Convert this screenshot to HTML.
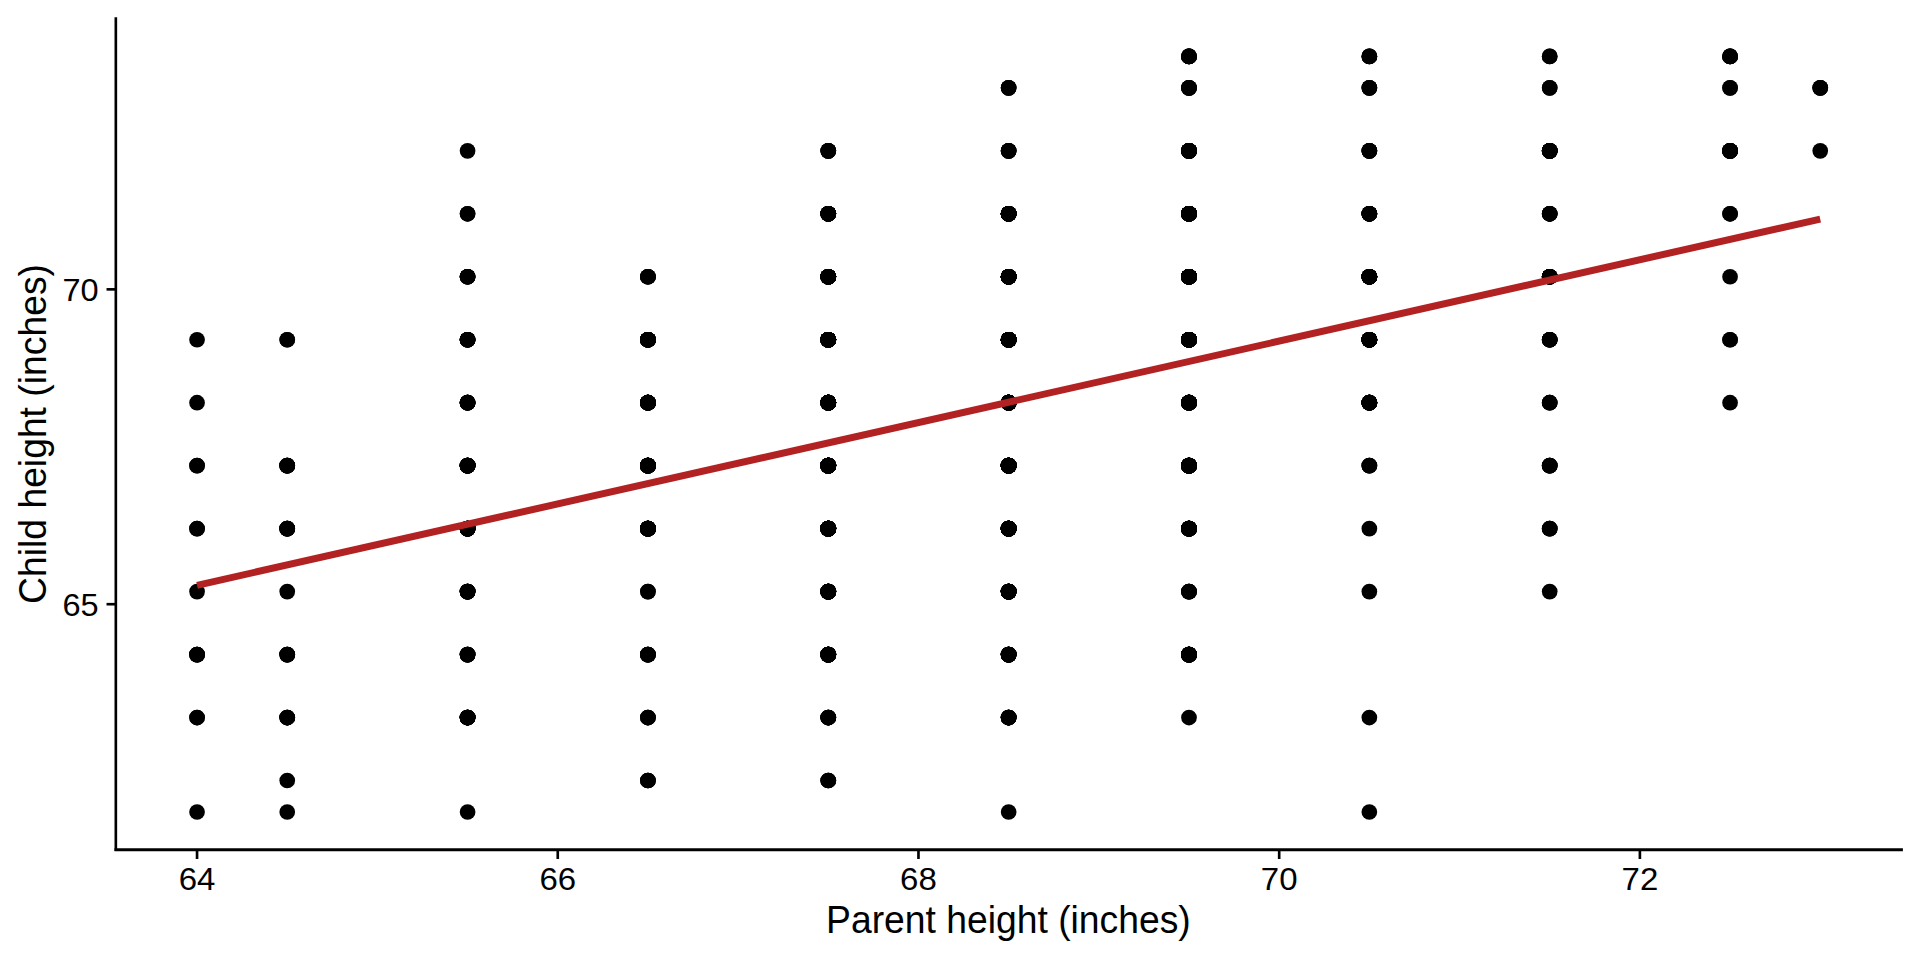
<!DOCTYPE html>
<html lang="en"><head><meta charset="utf-8"><title>Parent vs child height</title>
<style>html,body{margin:0;padding:0;background:#fff;overflow:hidden}svg{display:block}text{font-family:"Liberation Sans",Arial,Helvetica,sans-serif;fill:#000}</style></head><body>
<svg width="1920" height="960" viewBox="0 0 1920 960">
<rect width="1920" height="960" fill="#fff"/>
<g fill="#000">
<circle cx="197.05" cy="812.00" r="7.85"/>
<circle cx="287.23" cy="812.00" r="7.85"/>
<circle cx="467.58" cy="812.00" r="7.85"/>
<circle cx="1008.65" cy="812.00" r="7.85"/>
<circle cx="1369.36" cy="812.00" r="7.85"/>
<circle cx="287.23" cy="780.51" r="7.85"/>
<circle cx="647.94" cy="780.51" r="7.85"/><circle cx="647.94" cy="780.51" r="7.85"/><circle cx="647.94" cy="780.51" r="7.85"/>
<circle cx="828.29" cy="780.51" r="7.85"/><circle cx="828.29" cy="780.51" r="7.85"/><circle cx="828.29" cy="780.51" r="7.85"/>
<circle cx="197.05" cy="717.54" r="7.85"/><circle cx="197.05" cy="717.54" r="7.85"/>
<circle cx="287.23" cy="717.54" r="7.85"/><circle cx="287.23" cy="717.54" r="7.85"/><circle cx="287.23" cy="717.54" r="7.85"/><circle cx="287.23" cy="717.54" r="7.85"/>
<circle cx="467.58" cy="717.54" r="7.85"/><circle cx="467.58" cy="717.54" r="7.85"/><circle cx="467.58" cy="717.54" r="7.85"/><circle cx="467.58" cy="717.54" r="7.85"/><circle cx="467.58" cy="717.54" r="7.85"/><circle cx="467.58" cy="717.54" r="7.85"/><circle cx="467.58" cy="717.54" r="7.85"/><circle cx="467.58" cy="717.54" r="7.85"/><circle cx="467.58" cy="717.54" r="7.85"/>
<circle cx="647.94" cy="717.54" r="7.85"/><circle cx="647.94" cy="717.54" r="7.85"/><circle cx="647.94" cy="717.54" r="7.85"/>
<circle cx="828.29" cy="717.54" r="7.85"/><circle cx="828.29" cy="717.54" r="7.85"/><circle cx="828.29" cy="717.54" r="7.85"/><circle cx="828.29" cy="717.54" r="7.85"/><circle cx="828.29" cy="717.54" r="7.85"/>
<circle cx="1008.65" cy="717.54" r="7.85"/><circle cx="1008.65" cy="717.54" r="7.85"/><circle cx="1008.65" cy="717.54" r="7.85"/><circle cx="1008.65" cy="717.54" r="7.85"/><circle cx="1008.65" cy="717.54" r="7.85"/><circle cx="1008.65" cy="717.54" r="7.85"/><circle cx="1008.65" cy="717.54" r="7.85"/>
<circle cx="1189.00" cy="717.54" r="7.85"/>
<circle cx="1369.36" cy="717.54" r="7.85"/>
<circle cx="197.05" cy="654.58" r="7.85"/><circle cx="197.05" cy="654.58" r="7.85"/><circle cx="197.05" cy="654.58" r="7.85"/><circle cx="197.05" cy="654.58" r="7.85"/>
<circle cx="287.23" cy="654.58" r="7.85"/><circle cx="287.23" cy="654.58" r="7.85"/><circle cx="287.23" cy="654.58" r="7.85"/><circle cx="287.23" cy="654.58" r="7.85"/>
<circle cx="467.58" cy="654.58" r="7.85"/><circle cx="467.58" cy="654.58" r="7.85"/><circle cx="467.58" cy="654.58" r="7.85"/><circle cx="467.58" cy="654.58" r="7.85"/><circle cx="467.58" cy="654.58" r="7.85"/>
<circle cx="647.94" cy="654.58" r="7.85"/><circle cx="647.94" cy="654.58" r="7.85"/><circle cx="647.94" cy="654.58" r="7.85"/><circle cx="647.94" cy="654.58" r="7.85"/><circle cx="647.94" cy="654.58" r="7.85"/>
<circle cx="828.29" cy="654.58" r="7.85"/><circle cx="828.29" cy="654.58" r="7.85"/><circle cx="828.29" cy="654.58" r="7.85"/><circle cx="828.29" cy="654.58" r="7.85"/><circle cx="828.29" cy="654.58" r="7.85"/><circle cx="828.29" cy="654.58" r="7.85"/><circle cx="828.29" cy="654.58" r="7.85"/><circle cx="828.29" cy="654.58" r="7.85"/><circle cx="828.29" cy="654.58" r="7.85"/><circle cx="828.29" cy="654.58" r="7.85"/><circle cx="828.29" cy="654.58" r="7.85"/><circle cx="828.29" cy="654.58" r="7.85"/><circle cx="828.29" cy="654.58" r="7.85"/><circle cx="828.29" cy="654.58" r="7.85"/>
<circle cx="1008.65" cy="654.58" r="7.85"/><circle cx="1008.65" cy="654.58" r="7.85"/><circle cx="1008.65" cy="654.58" r="7.85"/><circle cx="1008.65" cy="654.58" r="7.85"/><circle cx="1008.65" cy="654.58" r="7.85"/><circle cx="1008.65" cy="654.58" r="7.85"/><circle cx="1008.65" cy="654.58" r="7.85"/><circle cx="1008.65" cy="654.58" r="7.85"/><circle cx="1008.65" cy="654.58" r="7.85"/><circle cx="1008.65" cy="654.58" r="7.85"/><circle cx="1008.65" cy="654.58" r="7.85"/>
<circle cx="1189.00" cy="654.58" r="7.85"/><circle cx="1189.00" cy="654.58" r="7.85"/><circle cx="1189.00" cy="654.58" r="7.85"/><circle cx="1189.00" cy="654.58" r="7.85"/><circle cx="1189.00" cy="654.58" r="7.85"/><circle cx="1189.00" cy="654.58" r="7.85"/><circle cx="1189.00" cy="654.58" r="7.85"/><circle cx="1189.00" cy="654.58" r="7.85"/><circle cx="1189.00" cy="654.58" r="7.85"/><circle cx="1189.00" cy="654.58" r="7.85"/><circle cx="1189.00" cy="654.58" r="7.85"/><circle cx="1189.00" cy="654.58" r="7.85"/><circle cx="1189.00" cy="654.58" r="7.85"/><circle cx="1189.00" cy="654.58" r="7.85"/><circle cx="1189.00" cy="654.58" r="7.85"/><circle cx="1189.00" cy="654.58" r="7.85"/>
<circle cx="197.05" cy="591.61" r="7.85"/>
<circle cx="287.23" cy="591.61" r="7.85"/>
<circle cx="467.58" cy="591.61" r="7.85"/><circle cx="467.58" cy="591.61" r="7.85"/><circle cx="467.58" cy="591.61" r="7.85"/><circle cx="467.58" cy="591.61" r="7.85"/><circle cx="467.58" cy="591.61" r="7.85"/><circle cx="467.58" cy="591.61" r="7.85"/><circle cx="467.58" cy="591.61" r="7.85"/>
<circle cx="647.94" cy="591.61" r="7.85"/><circle cx="647.94" cy="591.61" r="7.85"/>
<circle cx="828.29" cy="591.61" r="7.85"/><circle cx="828.29" cy="591.61" r="7.85"/><circle cx="828.29" cy="591.61" r="7.85"/><circle cx="828.29" cy="591.61" r="7.85"/><circle cx="828.29" cy="591.61" r="7.85"/><circle cx="828.29" cy="591.61" r="7.85"/><circle cx="828.29" cy="591.61" r="7.85"/><circle cx="828.29" cy="591.61" r="7.85"/><circle cx="828.29" cy="591.61" r="7.85"/><circle cx="828.29" cy="591.61" r="7.85"/><circle cx="828.29" cy="591.61" r="7.85"/><circle cx="828.29" cy="591.61" r="7.85"/><circle cx="828.29" cy="591.61" r="7.85"/><circle cx="828.29" cy="591.61" r="7.85"/><circle cx="828.29" cy="591.61" r="7.85"/>
<circle cx="1008.65" cy="591.61" r="7.85"/><circle cx="1008.65" cy="591.61" r="7.85"/><circle cx="1008.65" cy="591.61" r="7.85"/><circle cx="1008.65" cy="591.61" r="7.85"/><circle cx="1008.65" cy="591.61" r="7.85"/><circle cx="1008.65" cy="591.61" r="7.85"/><circle cx="1008.65" cy="591.61" r="7.85"/><circle cx="1008.65" cy="591.61" r="7.85"/><circle cx="1008.65" cy="591.61" r="7.85"/><circle cx="1008.65" cy="591.61" r="7.85"/><circle cx="1008.65" cy="591.61" r="7.85"/><circle cx="1008.65" cy="591.61" r="7.85"/><circle cx="1008.65" cy="591.61" r="7.85"/><circle cx="1008.65" cy="591.61" r="7.85"/><circle cx="1008.65" cy="591.61" r="7.85"/><circle cx="1008.65" cy="591.61" r="7.85"/>
<circle cx="1189.00" cy="591.61" r="7.85"/><circle cx="1189.00" cy="591.61" r="7.85"/><circle cx="1189.00" cy="591.61" r="7.85"/><circle cx="1189.00" cy="591.61" r="7.85"/>
<circle cx="1369.36" cy="591.61" r="7.85"/>
<circle cx="1549.71" cy="591.61" r="7.85"/>
<circle cx="197.05" cy="528.64" r="7.85"/><circle cx="197.05" cy="528.64" r="7.85"/>
<circle cx="287.23" cy="528.64" r="7.85"/><circle cx="287.23" cy="528.64" r="7.85"/><circle cx="287.23" cy="528.64" r="7.85"/><circle cx="287.23" cy="528.64" r="7.85"/><circle cx="287.23" cy="528.64" r="7.85"/>
<circle cx="467.58" cy="528.64" r="7.85"/><circle cx="467.58" cy="528.64" r="7.85"/><circle cx="467.58" cy="528.64" r="7.85"/><circle cx="467.58" cy="528.64" r="7.85"/><circle cx="467.58" cy="528.64" r="7.85"/><circle cx="467.58" cy="528.64" r="7.85"/><circle cx="467.58" cy="528.64" r="7.85"/><circle cx="467.58" cy="528.64" r="7.85"/><circle cx="467.58" cy="528.64" r="7.85"/><circle cx="467.58" cy="528.64" r="7.85"/><circle cx="467.58" cy="528.64" r="7.85"/>
<circle cx="647.94" cy="528.64" r="7.85"/><circle cx="647.94" cy="528.64" r="7.85"/><circle cx="647.94" cy="528.64" r="7.85"/><circle cx="647.94" cy="528.64" r="7.85"/><circle cx="647.94" cy="528.64" r="7.85"/><circle cx="647.94" cy="528.64" r="7.85"/><circle cx="647.94" cy="528.64" r="7.85"/><circle cx="647.94" cy="528.64" r="7.85"/><circle cx="647.94" cy="528.64" r="7.85"/><circle cx="647.94" cy="528.64" r="7.85"/><circle cx="647.94" cy="528.64" r="7.85"/><circle cx="647.94" cy="528.64" r="7.85"/><circle cx="647.94" cy="528.64" r="7.85"/><circle cx="647.94" cy="528.64" r="7.85"/><circle cx="647.94" cy="528.64" r="7.85"/><circle cx="647.94" cy="528.64" r="7.85"/><circle cx="647.94" cy="528.64" r="7.85"/>
<circle cx="828.29" cy="528.64" r="7.85"/><circle cx="828.29" cy="528.64" r="7.85"/><circle cx="828.29" cy="528.64" r="7.85"/><circle cx="828.29" cy="528.64" r="7.85"/><circle cx="828.29" cy="528.64" r="7.85"/><circle cx="828.29" cy="528.64" r="7.85"/><circle cx="828.29" cy="528.64" r="7.85"/><circle cx="828.29" cy="528.64" r="7.85"/><circle cx="828.29" cy="528.64" r="7.85"/><circle cx="828.29" cy="528.64" r="7.85"/><circle cx="828.29" cy="528.64" r="7.85"/><circle cx="828.29" cy="528.64" r="7.85"/><circle cx="828.29" cy="528.64" r="7.85"/><circle cx="828.29" cy="528.64" r="7.85"/><circle cx="828.29" cy="528.64" r="7.85"/><circle cx="828.29" cy="528.64" r="7.85"/><circle cx="828.29" cy="528.64" r="7.85"/><circle cx="828.29" cy="528.64" r="7.85"/><circle cx="828.29" cy="528.64" r="7.85"/><circle cx="828.29" cy="528.64" r="7.85"/><circle cx="828.29" cy="528.64" r="7.85"/><circle cx="828.29" cy="528.64" r="7.85"/><circle cx="828.29" cy="528.64" r="7.85"/><circle cx="828.29" cy="528.64" r="7.85"/><circle cx="828.29" cy="528.64" r="7.85"/><circle cx="828.29" cy="528.64" r="7.85"/><circle cx="828.29" cy="528.64" r="7.85"/><circle cx="828.29" cy="528.64" r="7.85"/><circle cx="828.29" cy="528.64" r="7.85"/><circle cx="828.29" cy="528.64" r="7.85"/><circle cx="828.29" cy="528.64" r="7.85"/><circle cx="828.29" cy="528.64" r="7.85"/><circle cx="828.29" cy="528.64" r="7.85"/><circle cx="828.29" cy="528.64" r="7.85"/><circle cx="828.29" cy="528.64" r="7.85"/><circle cx="828.29" cy="528.64" r="7.85"/>
<circle cx="1008.65" cy="528.64" r="7.85"/><circle cx="1008.65" cy="528.64" r="7.85"/><circle cx="1008.65" cy="528.64" r="7.85"/><circle cx="1008.65" cy="528.64" r="7.85"/><circle cx="1008.65" cy="528.64" r="7.85"/><circle cx="1008.65" cy="528.64" r="7.85"/><circle cx="1008.65" cy="528.64" r="7.85"/><circle cx="1008.65" cy="528.64" r="7.85"/><circle cx="1008.65" cy="528.64" r="7.85"/><circle cx="1008.65" cy="528.64" r="7.85"/><circle cx="1008.65" cy="528.64" r="7.85"/><circle cx="1008.65" cy="528.64" r="7.85"/><circle cx="1008.65" cy="528.64" r="7.85"/><circle cx="1008.65" cy="528.64" r="7.85"/><circle cx="1008.65" cy="528.64" r="7.85"/><circle cx="1008.65" cy="528.64" r="7.85"/><circle cx="1008.65" cy="528.64" r="7.85"/><circle cx="1008.65" cy="528.64" r="7.85"/><circle cx="1008.65" cy="528.64" r="7.85"/><circle cx="1008.65" cy="528.64" r="7.85"/><circle cx="1008.65" cy="528.64" r="7.85"/><circle cx="1008.65" cy="528.64" r="7.85"/><circle cx="1008.65" cy="528.64" r="7.85"/><circle cx="1008.65" cy="528.64" r="7.85"/><circle cx="1008.65" cy="528.64" r="7.85"/>
<circle cx="1189.00" cy="528.64" r="7.85"/><circle cx="1189.00" cy="528.64" r="7.85"/><circle cx="1189.00" cy="528.64" r="7.85"/><circle cx="1189.00" cy="528.64" r="7.85"/><circle cx="1189.00" cy="528.64" r="7.85"/><circle cx="1189.00" cy="528.64" r="7.85"/><circle cx="1189.00" cy="528.64" r="7.85"/><circle cx="1189.00" cy="528.64" r="7.85"/><circle cx="1189.00" cy="528.64" r="7.85"/><circle cx="1189.00" cy="528.64" r="7.85"/><circle cx="1189.00" cy="528.64" r="7.85"/><circle cx="1189.00" cy="528.64" r="7.85"/><circle cx="1189.00" cy="528.64" r="7.85"/><circle cx="1189.00" cy="528.64" r="7.85"/><circle cx="1189.00" cy="528.64" r="7.85"/><circle cx="1189.00" cy="528.64" r="7.85"/><circle cx="1189.00" cy="528.64" r="7.85"/>
<circle cx="1369.36" cy="528.64" r="7.85"/>
<circle cx="1549.71" cy="528.64" r="7.85"/><circle cx="1549.71" cy="528.64" r="7.85"/><circle cx="1549.71" cy="528.64" r="7.85"/>
<circle cx="197.05" cy="465.67" r="7.85"/><circle cx="197.05" cy="465.67" r="7.85"/>
<circle cx="287.23" cy="465.67" r="7.85"/><circle cx="287.23" cy="465.67" r="7.85"/><circle cx="287.23" cy="465.67" r="7.85"/><circle cx="287.23" cy="465.67" r="7.85"/><circle cx="287.23" cy="465.67" r="7.85"/>
<circle cx="467.58" cy="465.67" r="7.85"/><circle cx="467.58" cy="465.67" r="7.85"/><circle cx="467.58" cy="465.67" r="7.85"/><circle cx="467.58" cy="465.67" r="7.85"/><circle cx="467.58" cy="465.67" r="7.85"/><circle cx="467.58" cy="465.67" r="7.85"/><circle cx="467.58" cy="465.67" r="7.85"/><circle cx="467.58" cy="465.67" r="7.85"/><circle cx="467.58" cy="465.67" r="7.85"/><circle cx="467.58" cy="465.67" r="7.85"/><circle cx="467.58" cy="465.67" r="7.85"/>
<circle cx="647.94" cy="465.67" r="7.85"/><circle cx="647.94" cy="465.67" r="7.85"/><circle cx="647.94" cy="465.67" r="7.85"/><circle cx="647.94" cy="465.67" r="7.85"/><circle cx="647.94" cy="465.67" r="7.85"/><circle cx="647.94" cy="465.67" r="7.85"/><circle cx="647.94" cy="465.67" r="7.85"/><circle cx="647.94" cy="465.67" r="7.85"/><circle cx="647.94" cy="465.67" r="7.85"/><circle cx="647.94" cy="465.67" r="7.85"/><circle cx="647.94" cy="465.67" r="7.85"/><circle cx="647.94" cy="465.67" r="7.85"/><circle cx="647.94" cy="465.67" r="7.85"/><circle cx="647.94" cy="465.67" r="7.85"/><circle cx="647.94" cy="465.67" r="7.85"/><circle cx="647.94" cy="465.67" r="7.85"/><circle cx="647.94" cy="465.67" r="7.85"/>
<circle cx="828.29" cy="465.67" r="7.85"/><circle cx="828.29" cy="465.67" r="7.85"/><circle cx="828.29" cy="465.67" r="7.85"/><circle cx="828.29" cy="465.67" r="7.85"/><circle cx="828.29" cy="465.67" r="7.85"/><circle cx="828.29" cy="465.67" r="7.85"/><circle cx="828.29" cy="465.67" r="7.85"/><circle cx="828.29" cy="465.67" r="7.85"/><circle cx="828.29" cy="465.67" r="7.85"/><circle cx="828.29" cy="465.67" r="7.85"/><circle cx="828.29" cy="465.67" r="7.85"/><circle cx="828.29" cy="465.67" r="7.85"/><circle cx="828.29" cy="465.67" r="7.85"/><circle cx="828.29" cy="465.67" r="7.85"/><circle cx="828.29" cy="465.67" r="7.85"/><circle cx="828.29" cy="465.67" r="7.85"/><circle cx="828.29" cy="465.67" r="7.85"/><circle cx="828.29" cy="465.67" r="7.85"/><circle cx="828.29" cy="465.67" r="7.85"/><circle cx="828.29" cy="465.67" r="7.85"/><circle cx="828.29" cy="465.67" r="7.85"/><circle cx="828.29" cy="465.67" r="7.85"/><circle cx="828.29" cy="465.67" r="7.85"/><circle cx="828.29" cy="465.67" r="7.85"/><circle cx="828.29" cy="465.67" r="7.85"/><circle cx="828.29" cy="465.67" r="7.85"/><circle cx="828.29" cy="465.67" r="7.85"/><circle cx="828.29" cy="465.67" r="7.85"/><circle cx="828.29" cy="465.67" r="7.85"/><circle cx="828.29" cy="465.67" r="7.85"/><circle cx="828.29" cy="465.67" r="7.85"/><circle cx="828.29" cy="465.67" r="7.85"/><circle cx="828.29" cy="465.67" r="7.85"/><circle cx="828.29" cy="465.67" r="7.85"/><circle cx="828.29" cy="465.67" r="7.85"/><circle cx="828.29" cy="465.67" r="7.85"/><circle cx="828.29" cy="465.67" r="7.85"/><circle cx="828.29" cy="465.67" r="7.85"/>
<circle cx="1008.65" cy="465.67" r="7.85"/><circle cx="1008.65" cy="465.67" r="7.85"/><circle cx="1008.65" cy="465.67" r="7.85"/><circle cx="1008.65" cy="465.67" r="7.85"/><circle cx="1008.65" cy="465.67" r="7.85"/><circle cx="1008.65" cy="465.67" r="7.85"/><circle cx="1008.65" cy="465.67" r="7.85"/><circle cx="1008.65" cy="465.67" r="7.85"/><circle cx="1008.65" cy="465.67" r="7.85"/><circle cx="1008.65" cy="465.67" r="7.85"/><circle cx="1008.65" cy="465.67" r="7.85"/><circle cx="1008.65" cy="465.67" r="7.85"/><circle cx="1008.65" cy="465.67" r="7.85"/><circle cx="1008.65" cy="465.67" r="7.85"/><circle cx="1008.65" cy="465.67" r="7.85"/><circle cx="1008.65" cy="465.67" r="7.85"/><circle cx="1008.65" cy="465.67" r="7.85"/><circle cx="1008.65" cy="465.67" r="7.85"/><circle cx="1008.65" cy="465.67" r="7.85"/><circle cx="1008.65" cy="465.67" r="7.85"/><circle cx="1008.65" cy="465.67" r="7.85"/><circle cx="1008.65" cy="465.67" r="7.85"/><circle cx="1008.65" cy="465.67" r="7.85"/><circle cx="1008.65" cy="465.67" r="7.85"/><circle cx="1008.65" cy="465.67" r="7.85"/><circle cx="1008.65" cy="465.67" r="7.85"/><circle cx="1008.65" cy="465.67" r="7.85"/><circle cx="1008.65" cy="465.67" r="7.85"/><circle cx="1008.65" cy="465.67" r="7.85"/><circle cx="1008.65" cy="465.67" r="7.85"/><circle cx="1008.65" cy="465.67" r="7.85"/>
<circle cx="1189.00" cy="465.67" r="7.85"/><circle cx="1189.00" cy="465.67" r="7.85"/><circle cx="1189.00" cy="465.67" r="7.85"/><circle cx="1189.00" cy="465.67" r="7.85"/><circle cx="1189.00" cy="465.67" r="7.85"/><circle cx="1189.00" cy="465.67" r="7.85"/><circle cx="1189.00" cy="465.67" r="7.85"/><circle cx="1189.00" cy="465.67" r="7.85"/><circle cx="1189.00" cy="465.67" r="7.85"/><circle cx="1189.00" cy="465.67" r="7.85"/><circle cx="1189.00" cy="465.67" r="7.85"/><circle cx="1189.00" cy="465.67" r="7.85"/><circle cx="1189.00" cy="465.67" r="7.85"/><circle cx="1189.00" cy="465.67" r="7.85"/><circle cx="1189.00" cy="465.67" r="7.85"/><circle cx="1189.00" cy="465.67" r="7.85"/><circle cx="1189.00" cy="465.67" r="7.85"/><circle cx="1189.00" cy="465.67" r="7.85"/><circle cx="1189.00" cy="465.67" r="7.85"/><circle cx="1189.00" cy="465.67" r="7.85"/><circle cx="1189.00" cy="465.67" r="7.85"/><circle cx="1189.00" cy="465.67" r="7.85"/><circle cx="1189.00" cy="465.67" r="7.85"/><circle cx="1189.00" cy="465.67" r="7.85"/><circle cx="1189.00" cy="465.67" r="7.85"/><circle cx="1189.00" cy="465.67" r="7.85"/><circle cx="1189.00" cy="465.67" r="7.85"/>
<circle cx="1369.36" cy="465.67" r="7.85"/><circle cx="1369.36" cy="465.67" r="7.85"/><circle cx="1369.36" cy="465.67" r="7.85"/>
<circle cx="1549.71" cy="465.67" r="7.85"/><circle cx="1549.71" cy="465.67" r="7.85"/><circle cx="1549.71" cy="465.67" r="7.85"/><circle cx="1549.71" cy="465.67" r="7.85"/>
<circle cx="197.05" cy="402.70" r="7.85"/>
<circle cx="467.58" cy="402.70" r="7.85"/><circle cx="467.58" cy="402.70" r="7.85"/><circle cx="467.58" cy="402.70" r="7.85"/><circle cx="467.58" cy="402.70" r="7.85"/><circle cx="467.58" cy="402.70" r="7.85"/><circle cx="467.58" cy="402.70" r="7.85"/><circle cx="467.58" cy="402.70" r="7.85"/>
<circle cx="647.94" cy="402.70" r="7.85"/><circle cx="647.94" cy="402.70" r="7.85"/><circle cx="647.94" cy="402.70" r="7.85"/><circle cx="647.94" cy="402.70" r="7.85"/><circle cx="647.94" cy="402.70" r="7.85"/><circle cx="647.94" cy="402.70" r="7.85"/><circle cx="647.94" cy="402.70" r="7.85"/><circle cx="647.94" cy="402.70" r="7.85"/><circle cx="647.94" cy="402.70" r="7.85"/><circle cx="647.94" cy="402.70" r="7.85"/><circle cx="647.94" cy="402.70" r="7.85"/><circle cx="647.94" cy="402.70" r="7.85"/><circle cx="647.94" cy="402.70" r="7.85"/><circle cx="647.94" cy="402.70" r="7.85"/>
<circle cx="828.29" cy="402.70" r="7.85"/><circle cx="828.29" cy="402.70" r="7.85"/><circle cx="828.29" cy="402.70" r="7.85"/><circle cx="828.29" cy="402.70" r="7.85"/><circle cx="828.29" cy="402.70" r="7.85"/><circle cx="828.29" cy="402.70" r="7.85"/><circle cx="828.29" cy="402.70" r="7.85"/><circle cx="828.29" cy="402.70" r="7.85"/><circle cx="828.29" cy="402.70" r="7.85"/><circle cx="828.29" cy="402.70" r="7.85"/><circle cx="828.29" cy="402.70" r="7.85"/><circle cx="828.29" cy="402.70" r="7.85"/><circle cx="828.29" cy="402.70" r="7.85"/><circle cx="828.29" cy="402.70" r="7.85"/><circle cx="828.29" cy="402.70" r="7.85"/><circle cx="828.29" cy="402.70" r="7.85"/><circle cx="828.29" cy="402.70" r="7.85"/><circle cx="828.29" cy="402.70" r="7.85"/><circle cx="828.29" cy="402.70" r="7.85"/><circle cx="828.29" cy="402.70" r="7.85"/><circle cx="828.29" cy="402.70" r="7.85"/><circle cx="828.29" cy="402.70" r="7.85"/><circle cx="828.29" cy="402.70" r="7.85"/><circle cx="828.29" cy="402.70" r="7.85"/><circle cx="828.29" cy="402.70" r="7.85"/><circle cx="828.29" cy="402.70" r="7.85"/><circle cx="828.29" cy="402.70" r="7.85"/><circle cx="828.29" cy="402.70" r="7.85"/>
<circle cx="1008.65" cy="402.70" r="7.85"/><circle cx="1008.65" cy="402.70" r="7.85"/><circle cx="1008.65" cy="402.70" r="7.85"/><circle cx="1008.65" cy="402.70" r="7.85"/><circle cx="1008.65" cy="402.70" r="7.85"/><circle cx="1008.65" cy="402.70" r="7.85"/><circle cx="1008.65" cy="402.70" r="7.85"/><circle cx="1008.65" cy="402.70" r="7.85"/><circle cx="1008.65" cy="402.70" r="7.85"/><circle cx="1008.65" cy="402.70" r="7.85"/><circle cx="1008.65" cy="402.70" r="7.85"/><circle cx="1008.65" cy="402.70" r="7.85"/><circle cx="1008.65" cy="402.70" r="7.85"/><circle cx="1008.65" cy="402.70" r="7.85"/><circle cx="1008.65" cy="402.70" r="7.85"/><circle cx="1008.65" cy="402.70" r="7.85"/><circle cx="1008.65" cy="402.70" r="7.85"/><circle cx="1008.65" cy="402.70" r="7.85"/><circle cx="1008.65" cy="402.70" r="7.85"/><circle cx="1008.65" cy="402.70" r="7.85"/><circle cx="1008.65" cy="402.70" r="7.85"/><circle cx="1008.65" cy="402.70" r="7.85"/><circle cx="1008.65" cy="402.70" r="7.85"/><circle cx="1008.65" cy="402.70" r="7.85"/><circle cx="1008.65" cy="402.70" r="7.85"/><circle cx="1008.65" cy="402.70" r="7.85"/><circle cx="1008.65" cy="402.70" r="7.85"/><circle cx="1008.65" cy="402.70" r="7.85"/><circle cx="1008.65" cy="402.70" r="7.85"/><circle cx="1008.65" cy="402.70" r="7.85"/><circle cx="1008.65" cy="402.70" r="7.85"/><circle cx="1008.65" cy="402.70" r="7.85"/><circle cx="1008.65" cy="402.70" r="7.85"/><circle cx="1008.65" cy="402.70" r="7.85"/>
<circle cx="1189.00" cy="402.70" r="7.85"/><circle cx="1189.00" cy="402.70" r="7.85"/><circle cx="1189.00" cy="402.70" r="7.85"/><circle cx="1189.00" cy="402.70" r="7.85"/><circle cx="1189.00" cy="402.70" r="7.85"/><circle cx="1189.00" cy="402.70" r="7.85"/><circle cx="1189.00" cy="402.70" r="7.85"/><circle cx="1189.00" cy="402.70" r="7.85"/><circle cx="1189.00" cy="402.70" r="7.85"/><circle cx="1189.00" cy="402.70" r="7.85"/><circle cx="1189.00" cy="402.70" r="7.85"/><circle cx="1189.00" cy="402.70" r="7.85"/><circle cx="1189.00" cy="402.70" r="7.85"/><circle cx="1189.00" cy="402.70" r="7.85"/><circle cx="1189.00" cy="402.70" r="7.85"/><circle cx="1189.00" cy="402.70" r="7.85"/><circle cx="1189.00" cy="402.70" r="7.85"/><circle cx="1189.00" cy="402.70" r="7.85"/><circle cx="1189.00" cy="402.70" r="7.85"/><circle cx="1189.00" cy="402.70" r="7.85"/>
<circle cx="1369.36" cy="402.70" r="7.85"/><circle cx="1369.36" cy="402.70" r="7.85"/><circle cx="1369.36" cy="402.70" r="7.85"/><circle cx="1369.36" cy="402.70" r="7.85"/><circle cx="1369.36" cy="402.70" r="7.85"/><circle cx="1369.36" cy="402.70" r="7.85"/><circle cx="1369.36" cy="402.70" r="7.85"/><circle cx="1369.36" cy="402.70" r="7.85"/><circle cx="1369.36" cy="402.70" r="7.85"/><circle cx="1369.36" cy="402.70" r="7.85"/><circle cx="1369.36" cy="402.70" r="7.85"/><circle cx="1369.36" cy="402.70" r="7.85"/>
<circle cx="1549.71" cy="402.70" r="7.85"/><circle cx="1549.71" cy="402.70" r="7.85"/><circle cx="1549.71" cy="402.70" r="7.85"/>
<circle cx="1730.07" cy="402.70" r="7.85"/>
<circle cx="197.05" cy="339.74" r="7.85"/>
<circle cx="287.23" cy="339.74" r="7.85"/><circle cx="287.23" cy="339.74" r="7.85"/>
<circle cx="467.58" cy="339.74" r="7.85"/><circle cx="467.58" cy="339.74" r="7.85"/><circle cx="467.58" cy="339.74" r="7.85"/><circle cx="467.58" cy="339.74" r="7.85"/><circle cx="467.58" cy="339.74" r="7.85"/><circle cx="467.58" cy="339.74" r="7.85"/><circle cx="467.58" cy="339.74" r="7.85"/>
<circle cx="647.94" cy="339.74" r="7.85"/><circle cx="647.94" cy="339.74" r="7.85"/><circle cx="647.94" cy="339.74" r="7.85"/><circle cx="647.94" cy="339.74" r="7.85"/><circle cx="647.94" cy="339.74" r="7.85"/><circle cx="647.94" cy="339.74" r="7.85"/><circle cx="647.94" cy="339.74" r="7.85"/><circle cx="647.94" cy="339.74" r="7.85"/><circle cx="647.94" cy="339.74" r="7.85"/><circle cx="647.94" cy="339.74" r="7.85"/><circle cx="647.94" cy="339.74" r="7.85"/><circle cx="647.94" cy="339.74" r="7.85"/><circle cx="647.94" cy="339.74" r="7.85"/>
<circle cx="828.29" cy="339.74" r="7.85"/><circle cx="828.29" cy="339.74" r="7.85"/><circle cx="828.29" cy="339.74" r="7.85"/><circle cx="828.29" cy="339.74" r="7.85"/><circle cx="828.29" cy="339.74" r="7.85"/><circle cx="828.29" cy="339.74" r="7.85"/><circle cx="828.29" cy="339.74" r="7.85"/><circle cx="828.29" cy="339.74" r="7.85"/><circle cx="828.29" cy="339.74" r="7.85"/><circle cx="828.29" cy="339.74" r="7.85"/><circle cx="828.29" cy="339.74" r="7.85"/><circle cx="828.29" cy="339.74" r="7.85"/><circle cx="828.29" cy="339.74" r="7.85"/><circle cx="828.29" cy="339.74" r="7.85"/><circle cx="828.29" cy="339.74" r="7.85"/><circle cx="828.29" cy="339.74" r="7.85"/><circle cx="828.29" cy="339.74" r="7.85"/><circle cx="828.29" cy="339.74" r="7.85"/><circle cx="828.29" cy="339.74" r="7.85"/><circle cx="828.29" cy="339.74" r="7.85"/><circle cx="828.29" cy="339.74" r="7.85"/><circle cx="828.29" cy="339.74" r="7.85"/><circle cx="828.29" cy="339.74" r="7.85"/><circle cx="828.29" cy="339.74" r="7.85"/><circle cx="828.29" cy="339.74" r="7.85"/><circle cx="828.29" cy="339.74" r="7.85"/><circle cx="828.29" cy="339.74" r="7.85"/><circle cx="828.29" cy="339.74" r="7.85"/><circle cx="828.29" cy="339.74" r="7.85"/><circle cx="828.29" cy="339.74" r="7.85"/><circle cx="828.29" cy="339.74" r="7.85"/><circle cx="828.29" cy="339.74" r="7.85"/><circle cx="828.29" cy="339.74" r="7.85"/><circle cx="828.29" cy="339.74" r="7.85"/><circle cx="828.29" cy="339.74" r="7.85"/><circle cx="828.29" cy="339.74" r="7.85"/><circle cx="828.29" cy="339.74" r="7.85"/><circle cx="828.29" cy="339.74" r="7.85"/>
<circle cx="1008.65" cy="339.74" r="7.85"/><circle cx="1008.65" cy="339.74" r="7.85"/><circle cx="1008.65" cy="339.74" r="7.85"/><circle cx="1008.65" cy="339.74" r="7.85"/><circle cx="1008.65" cy="339.74" r="7.85"/><circle cx="1008.65" cy="339.74" r="7.85"/><circle cx="1008.65" cy="339.74" r="7.85"/><circle cx="1008.65" cy="339.74" r="7.85"/><circle cx="1008.65" cy="339.74" r="7.85"/><circle cx="1008.65" cy="339.74" r="7.85"/><circle cx="1008.65" cy="339.74" r="7.85"/><circle cx="1008.65" cy="339.74" r="7.85"/><circle cx="1008.65" cy="339.74" r="7.85"/><circle cx="1008.65" cy="339.74" r="7.85"/><circle cx="1008.65" cy="339.74" r="7.85"/><circle cx="1008.65" cy="339.74" r="7.85"/><circle cx="1008.65" cy="339.74" r="7.85"/><circle cx="1008.65" cy="339.74" r="7.85"/><circle cx="1008.65" cy="339.74" r="7.85"/><circle cx="1008.65" cy="339.74" r="7.85"/><circle cx="1008.65" cy="339.74" r="7.85"/><circle cx="1008.65" cy="339.74" r="7.85"/><circle cx="1008.65" cy="339.74" r="7.85"/><circle cx="1008.65" cy="339.74" r="7.85"/><circle cx="1008.65" cy="339.74" r="7.85"/><circle cx="1008.65" cy="339.74" r="7.85"/><circle cx="1008.65" cy="339.74" r="7.85"/><circle cx="1008.65" cy="339.74" r="7.85"/><circle cx="1008.65" cy="339.74" r="7.85"/><circle cx="1008.65" cy="339.74" r="7.85"/><circle cx="1008.65" cy="339.74" r="7.85"/><circle cx="1008.65" cy="339.74" r="7.85"/><circle cx="1008.65" cy="339.74" r="7.85"/><circle cx="1008.65" cy="339.74" r="7.85"/><circle cx="1008.65" cy="339.74" r="7.85"/><circle cx="1008.65" cy="339.74" r="7.85"/><circle cx="1008.65" cy="339.74" r="7.85"/><circle cx="1008.65" cy="339.74" r="7.85"/><circle cx="1008.65" cy="339.74" r="7.85"/><circle cx="1008.65" cy="339.74" r="7.85"/><circle cx="1008.65" cy="339.74" r="7.85"/><circle cx="1008.65" cy="339.74" r="7.85"/><circle cx="1008.65" cy="339.74" r="7.85"/><circle cx="1008.65" cy="339.74" r="7.85"/><circle cx="1008.65" cy="339.74" r="7.85"/><circle cx="1008.65" cy="339.74" r="7.85"/><circle cx="1008.65" cy="339.74" r="7.85"/><circle cx="1008.65" cy="339.74" r="7.85"/>
<circle cx="1189.00" cy="339.74" r="7.85"/><circle cx="1189.00" cy="339.74" r="7.85"/><circle cx="1189.00" cy="339.74" r="7.85"/><circle cx="1189.00" cy="339.74" r="7.85"/><circle cx="1189.00" cy="339.74" r="7.85"/><circle cx="1189.00" cy="339.74" r="7.85"/><circle cx="1189.00" cy="339.74" r="7.85"/><circle cx="1189.00" cy="339.74" r="7.85"/><circle cx="1189.00" cy="339.74" r="7.85"/><circle cx="1189.00" cy="339.74" r="7.85"/><circle cx="1189.00" cy="339.74" r="7.85"/><circle cx="1189.00" cy="339.74" r="7.85"/><circle cx="1189.00" cy="339.74" r="7.85"/><circle cx="1189.00" cy="339.74" r="7.85"/><circle cx="1189.00" cy="339.74" r="7.85"/><circle cx="1189.00" cy="339.74" r="7.85"/><circle cx="1189.00" cy="339.74" r="7.85"/><circle cx="1189.00" cy="339.74" r="7.85"/><circle cx="1189.00" cy="339.74" r="7.85"/><circle cx="1189.00" cy="339.74" r="7.85"/><circle cx="1189.00" cy="339.74" r="7.85"/><circle cx="1189.00" cy="339.74" r="7.85"/><circle cx="1189.00" cy="339.74" r="7.85"/><circle cx="1189.00" cy="339.74" r="7.85"/><circle cx="1189.00" cy="339.74" r="7.85"/><circle cx="1189.00" cy="339.74" r="7.85"/><circle cx="1189.00" cy="339.74" r="7.85"/><circle cx="1189.00" cy="339.74" r="7.85"/><circle cx="1189.00" cy="339.74" r="7.85"/><circle cx="1189.00" cy="339.74" r="7.85"/><circle cx="1189.00" cy="339.74" r="7.85"/><circle cx="1189.00" cy="339.74" r="7.85"/><circle cx="1189.00" cy="339.74" r="7.85"/>
<circle cx="1369.36" cy="339.74" r="7.85"/><circle cx="1369.36" cy="339.74" r="7.85"/><circle cx="1369.36" cy="339.74" r="7.85"/><circle cx="1369.36" cy="339.74" r="7.85"/><circle cx="1369.36" cy="339.74" r="7.85"/><circle cx="1369.36" cy="339.74" r="7.85"/><circle cx="1369.36" cy="339.74" r="7.85"/><circle cx="1369.36" cy="339.74" r="7.85"/><circle cx="1369.36" cy="339.74" r="7.85"/><circle cx="1369.36" cy="339.74" r="7.85"/><circle cx="1369.36" cy="339.74" r="7.85"/><circle cx="1369.36" cy="339.74" r="7.85"/><circle cx="1369.36" cy="339.74" r="7.85"/><circle cx="1369.36" cy="339.74" r="7.85"/><circle cx="1369.36" cy="339.74" r="7.85"/><circle cx="1369.36" cy="339.74" r="7.85"/><circle cx="1369.36" cy="339.74" r="7.85"/><circle cx="1369.36" cy="339.74" r="7.85"/>
<circle cx="1549.71" cy="339.74" r="7.85"/><circle cx="1549.71" cy="339.74" r="7.85"/><circle cx="1549.71" cy="339.74" r="7.85"/><circle cx="1549.71" cy="339.74" r="7.85"/><circle cx="1549.71" cy="339.74" r="7.85"/>
<circle cx="1730.07" cy="339.74" r="7.85"/><circle cx="1730.07" cy="339.74" r="7.85"/>
<circle cx="467.58" cy="276.77" r="7.85"/><circle cx="467.58" cy="276.77" r="7.85"/><circle cx="467.58" cy="276.77" r="7.85"/><circle cx="467.58" cy="276.77" r="7.85"/><circle cx="467.58" cy="276.77" r="7.85"/>
<circle cx="647.94" cy="276.77" r="7.85"/><circle cx="647.94" cy="276.77" r="7.85"/><circle cx="647.94" cy="276.77" r="7.85"/><circle cx="647.94" cy="276.77" r="7.85"/>
<circle cx="828.29" cy="276.77" r="7.85"/><circle cx="828.29" cy="276.77" r="7.85"/><circle cx="828.29" cy="276.77" r="7.85"/><circle cx="828.29" cy="276.77" r="7.85"/><circle cx="828.29" cy="276.77" r="7.85"/><circle cx="828.29" cy="276.77" r="7.85"/><circle cx="828.29" cy="276.77" r="7.85"/><circle cx="828.29" cy="276.77" r="7.85"/><circle cx="828.29" cy="276.77" r="7.85"/><circle cx="828.29" cy="276.77" r="7.85"/><circle cx="828.29" cy="276.77" r="7.85"/><circle cx="828.29" cy="276.77" r="7.85"/><circle cx="828.29" cy="276.77" r="7.85"/><circle cx="828.29" cy="276.77" r="7.85"/><circle cx="828.29" cy="276.77" r="7.85"/><circle cx="828.29" cy="276.77" r="7.85"/><circle cx="828.29" cy="276.77" r="7.85"/><circle cx="828.29" cy="276.77" r="7.85"/><circle cx="828.29" cy="276.77" r="7.85"/>
<circle cx="1008.65" cy="276.77" r="7.85"/><circle cx="1008.65" cy="276.77" r="7.85"/><circle cx="1008.65" cy="276.77" r="7.85"/><circle cx="1008.65" cy="276.77" r="7.85"/><circle cx="1008.65" cy="276.77" r="7.85"/><circle cx="1008.65" cy="276.77" r="7.85"/><circle cx="1008.65" cy="276.77" r="7.85"/><circle cx="1008.65" cy="276.77" r="7.85"/><circle cx="1008.65" cy="276.77" r="7.85"/><circle cx="1008.65" cy="276.77" r="7.85"/><circle cx="1008.65" cy="276.77" r="7.85"/><circle cx="1008.65" cy="276.77" r="7.85"/><circle cx="1008.65" cy="276.77" r="7.85"/><circle cx="1008.65" cy="276.77" r="7.85"/><circle cx="1008.65" cy="276.77" r="7.85"/><circle cx="1008.65" cy="276.77" r="7.85"/><circle cx="1008.65" cy="276.77" r="7.85"/><circle cx="1008.65" cy="276.77" r="7.85"/><circle cx="1008.65" cy="276.77" r="7.85"/><circle cx="1008.65" cy="276.77" r="7.85"/><circle cx="1008.65" cy="276.77" r="7.85"/>
<circle cx="1189.00" cy="276.77" r="7.85"/><circle cx="1189.00" cy="276.77" r="7.85"/><circle cx="1189.00" cy="276.77" r="7.85"/><circle cx="1189.00" cy="276.77" r="7.85"/><circle cx="1189.00" cy="276.77" r="7.85"/><circle cx="1189.00" cy="276.77" r="7.85"/><circle cx="1189.00" cy="276.77" r="7.85"/><circle cx="1189.00" cy="276.77" r="7.85"/><circle cx="1189.00" cy="276.77" r="7.85"/><circle cx="1189.00" cy="276.77" r="7.85"/><circle cx="1189.00" cy="276.77" r="7.85"/><circle cx="1189.00" cy="276.77" r="7.85"/><circle cx="1189.00" cy="276.77" r="7.85"/><circle cx="1189.00" cy="276.77" r="7.85"/><circle cx="1189.00" cy="276.77" r="7.85"/><circle cx="1189.00" cy="276.77" r="7.85"/><circle cx="1189.00" cy="276.77" r="7.85"/><circle cx="1189.00" cy="276.77" r="7.85"/><circle cx="1189.00" cy="276.77" r="7.85"/><circle cx="1189.00" cy="276.77" r="7.85"/><circle cx="1189.00" cy="276.77" r="7.85"/><circle cx="1189.00" cy="276.77" r="7.85"/><circle cx="1189.00" cy="276.77" r="7.85"/><circle cx="1189.00" cy="276.77" r="7.85"/><circle cx="1189.00" cy="276.77" r="7.85"/>
<circle cx="1369.36" cy="276.77" r="7.85"/><circle cx="1369.36" cy="276.77" r="7.85"/><circle cx="1369.36" cy="276.77" r="7.85"/><circle cx="1369.36" cy="276.77" r="7.85"/><circle cx="1369.36" cy="276.77" r="7.85"/><circle cx="1369.36" cy="276.77" r="7.85"/><circle cx="1369.36" cy="276.77" r="7.85"/><circle cx="1369.36" cy="276.77" r="7.85"/><circle cx="1369.36" cy="276.77" r="7.85"/><circle cx="1369.36" cy="276.77" r="7.85"/><circle cx="1369.36" cy="276.77" r="7.85"/><circle cx="1369.36" cy="276.77" r="7.85"/><circle cx="1369.36" cy="276.77" r="7.85"/><circle cx="1369.36" cy="276.77" r="7.85"/>
<circle cx="1549.71" cy="276.77" r="7.85"/><circle cx="1549.71" cy="276.77" r="7.85"/><circle cx="1549.71" cy="276.77" r="7.85"/><circle cx="1549.71" cy="276.77" r="7.85"/><circle cx="1549.71" cy="276.77" r="7.85"/><circle cx="1549.71" cy="276.77" r="7.85"/><circle cx="1549.71" cy="276.77" r="7.85"/><circle cx="1549.71" cy="276.77" r="7.85"/><circle cx="1549.71" cy="276.77" r="7.85"/><circle cx="1549.71" cy="276.77" r="7.85"/>
<circle cx="1730.07" cy="276.77" r="7.85"/>
<circle cx="467.58" cy="213.80" r="7.85"/><circle cx="467.58" cy="213.80" r="7.85"/>
<circle cx="828.29" cy="213.80" r="7.85"/><circle cx="828.29" cy="213.80" r="7.85"/><circle cx="828.29" cy="213.80" r="7.85"/><circle cx="828.29" cy="213.80" r="7.85"/><circle cx="828.29" cy="213.80" r="7.85"/><circle cx="828.29" cy="213.80" r="7.85"/><circle cx="828.29" cy="213.80" r="7.85"/><circle cx="828.29" cy="213.80" r="7.85"/><circle cx="828.29" cy="213.80" r="7.85"/><circle cx="828.29" cy="213.80" r="7.85"/><circle cx="828.29" cy="213.80" r="7.85"/>
<circle cx="1008.65" cy="213.80" r="7.85"/><circle cx="1008.65" cy="213.80" r="7.85"/><circle cx="1008.65" cy="213.80" r="7.85"/><circle cx="1008.65" cy="213.80" r="7.85"/><circle cx="1008.65" cy="213.80" r="7.85"/><circle cx="1008.65" cy="213.80" r="7.85"/><circle cx="1008.65" cy="213.80" r="7.85"/><circle cx="1008.65" cy="213.80" r="7.85"/><circle cx="1008.65" cy="213.80" r="7.85"/><circle cx="1008.65" cy="213.80" r="7.85"/><circle cx="1008.65" cy="213.80" r="7.85"/><circle cx="1008.65" cy="213.80" r="7.85"/><circle cx="1008.65" cy="213.80" r="7.85"/><circle cx="1008.65" cy="213.80" r="7.85"/><circle cx="1008.65" cy="213.80" r="7.85"/><circle cx="1008.65" cy="213.80" r="7.85"/><circle cx="1008.65" cy="213.80" r="7.85"/><circle cx="1008.65" cy="213.80" r="7.85"/>
<circle cx="1189.00" cy="213.80" r="7.85"/><circle cx="1189.00" cy="213.80" r="7.85"/><circle cx="1189.00" cy="213.80" r="7.85"/><circle cx="1189.00" cy="213.80" r="7.85"/><circle cx="1189.00" cy="213.80" r="7.85"/><circle cx="1189.00" cy="213.80" r="7.85"/><circle cx="1189.00" cy="213.80" r="7.85"/><circle cx="1189.00" cy="213.80" r="7.85"/><circle cx="1189.00" cy="213.80" r="7.85"/><circle cx="1189.00" cy="213.80" r="7.85"/><circle cx="1189.00" cy="213.80" r="7.85"/><circle cx="1189.00" cy="213.80" r="7.85"/><circle cx="1189.00" cy="213.80" r="7.85"/><circle cx="1189.00" cy="213.80" r="7.85"/><circle cx="1189.00" cy="213.80" r="7.85"/><circle cx="1189.00" cy="213.80" r="7.85"/><circle cx="1189.00" cy="213.80" r="7.85"/><circle cx="1189.00" cy="213.80" r="7.85"/><circle cx="1189.00" cy="213.80" r="7.85"/><circle cx="1189.00" cy="213.80" r="7.85"/>
<circle cx="1369.36" cy="213.80" r="7.85"/><circle cx="1369.36" cy="213.80" r="7.85"/><circle cx="1369.36" cy="213.80" r="7.85"/><circle cx="1369.36" cy="213.80" r="7.85"/><circle cx="1369.36" cy="213.80" r="7.85"/><circle cx="1369.36" cy="213.80" r="7.85"/><circle cx="1369.36" cy="213.80" r="7.85"/>
<circle cx="1549.71" cy="213.80" r="7.85"/><circle cx="1549.71" cy="213.80" r="7.85"/><circle cx="1549.71" cy="213.80" r="7.85"/><circle cx="1549.71" cy="213.80" r="7.85"/>
<circle cx="1730.07" cy="213.80" r="7.85"/><circle cx="1730.07" cy="213.80" r="7.85"/>
<circle cx="467.58" cy="150.83" r="7.85"/>
<circle cx="828.29" cy="150.83" r="7.85"/><circle cx="828.29" cy="150.83" r="7.85"/><circle cx="828.29" cy="150.83" r="7.85"/><circle cx="828.29" cy="150.83" r="7.85"/>
<circle cx="1008.65" cy="150.83" r="7.85"/><circle cx="1008.65" cy="150.83" r="7.85"/><circle cx="1008.65" cy="150.83" r="7.85"/><circle cx="1008.65" cy="150.83" r="7.85"/>
<circle cx="1189.00" cy="150.83" r="7.85"/><circle cx="1189.00" cy="150.83" r="7.85"/><circle cx="1189.00" cy="150.83" r="7.85"/><circle cx="1189.00" cy="150.83" r="7.85"/><circle cx="1189.00" cy="150.83" r="7.85"/><circle cx="1189.00" cy="150.83" r="7.85"/><circle cx="1189.00" cy="150.83" r="7.85"/><circle cx="1189.00" cy="150.83" r="7.85"/><circle cx="1189.00" cy="150.83" r="7.85"/><circle cx="1189.00" cy="150.83" r="7.85"/><circle cx="1189.00" cy="150.83" r="7.85"/>
<circle cx="1369.36" cy="150.83" r="7.85"/><circle cx="1369.36" cy="150.83" r="7.85"/><circle cx="1369.36" cy="150.83" r="7.85"/><circle cx="1369.36" cy="150.83" r="7.85"/>
<circle cx="1549.71" cy="150.83" r="7.85"/><circle cx="1549.71" cy="150.83" r="7.85"/><circle cx="1549.71" cy="150.83" r="7.85"/><circle cx="1549.71" cy="150.83" r="7.85"/><circle cx="1549.71" cy="150.83" r="7.85"/><circle cx="1549.71" cy="150.83" r="7.85"/><circle cx="1549.71" cy="150.83" r="7.85"/><circle cx="1549.71" cy="150.83" r="7.85"/><circle cx="1549.71" cy="150.83" r="7.85"/>
<circle cx="1730.07" cy="150.83" r="7.85"/><circle cx="1730.07" cy="150.83" r="7.85"/><circle cx="1730.07" cy="150.83" r="7.85"/><circle cx="1730.07" cy="150.83" r="7.85"/><circle cx="1730.07" cy="150.83" r="7.85"/><circle cx="1730.07" cy="150.83" r="7.85"/><circle cx="1730.07" cy="150.83" r="7.85"/>
<circle cx="1820.24" cy="150.83" r="7.85"/>
<circle cx="1008.65" cy="87.86" r="7.85"/><circle cx="1008.65" cy="87.86" r="7.85"/><circle cx="1008.65" cy="87.86" r="7.85"/>
<circle cx="1189.00" cy="87.86" r="7.85"/><circle cx="1189.00" cy="87.86" r="7.85"/><circle cx="1189.00" cy="87.86" r="7.85"/><circle cx="1189.00" cy="87.86" r="7.85"/>
<circle cx="1369.36" cy="87.86" r="7.85"/><circle cx="1369.36" cy="87.86" r="7.85"/><circle cx="1369.36" cy="87.86" r="7.85"/>
<circle cx="1549.71" cy="87.86" r="7.85"/><circle cx="1549.71" cy="87.86" r="7.85"/>
<circle cx="1730.07" cy="87.86" r="7.85"/><circle cx="1730.07" cy="87.86" r="7.85"/>
<circle cx="1820.24" cy="87.86" r="7.85"/><circle cx="1820.24" cy="87.86" r="7.85"/><circle cx="1820.24" cy="87.86" r="7.85"/>
<circle cx="1189.00" cy="56.38" r="7.85"/><circle cx="1189.00" cy="56.38" r="7.85"/><circle cx="1189.00" cy="56.38" r="7.85"/><circle cx="1189.00" cy="56.38" r="7.85"/><circle cx="1189.00" cy="56.38" r="7.85"/>
<circle cx="1369.36" cy="56.38" r="7.85"/><circle cx="1369.36" cy="56.38" r="7.85"/><circle cx="1369.36" cy="56.38" r="7.85"/>
<circle cx="1549.71" cy="56.38" r="7.85"/><circle cx="1549.71" cy="56.38" r="7.85"/>
<circle cx="1730.07" cy="56.38" r="7.85"/><circle cx="1730.07" cy="56.38" r="7.85"/><circle cx="1730.07" cy="56.38" r="7.85"/><circle cx="1730.07" cy="56.38" r="7.85"/>
</g>
<line x1="197.05" y1="585.30" x2="1820.24" y2="219.04" stroke="#B22222" stroke-width="7.0"/>
<g stroke="#000" stroke-width="2.65" fill="none">
<line x1="115.83" y1="17.25" x2="115.83" y2="851.05"/>
<line x1="114.50" y1="849.75" x2="1902.90" y2="849.75" stroke-width="2.8"/>
<line x1="197.05" y1="849.72" x2="197.05" y2="859.02"/>
<line x1="557.76" y1="849.72" x2="557.76" y2="859.02"/>
<line x1="918.47" y1="849.72" x2="918.47" y2="859.02"/>
<line x1="1279.18" y1="849.72" x2="1279.18" y2="859.02"/>
<line x1="1639.89" y1="849.72" x2="1639.89" y2="859.02"/>
<line x1="106.53" y1="604.20" x2="115.83" y2="604.20"/>
<line x1="106.53" y1="289.36" x2="115.83" y2="289.36"/>
</g>
<g font-size="31.6">
<text transform="translate(197.05,889.9) scale(1.045,1)" text-anchor="middle">64</text>
<text transform="translate(557.76,889.9) scale(1.045,1)" text-anchor="middle">66</text>
<text transform="translate(918.47,889.9) scale(1.045,1)" text-anchor="middle">68</text>
<text transform="translate(1279.18,889.9) scale(1.045,1)" text-anchor="middle">70</text>
<text transform="translate(1639.89,889.9) scale(1.045,1)" text-anchor="middle">72</text>
<text transform="translate(98.6,615.70) scale(1.03,1)" text-anchor="end">65</text>
<text transform="translate(98.6,300.86) scale(1.03,1)" text-anchor="end">70</text>
</g>
<text transform="translate(1008.4,932.8) scale(1,1.02)" font-size="37.3" text-anchor="middle">Parent height (inches)</text>
<text transform="translate(45.9,434) rotate(-90) scale(1,1.02)" font-size="37.3" text-anchor="middle">Child height (inches)</text>
</svg>
</body></html>
